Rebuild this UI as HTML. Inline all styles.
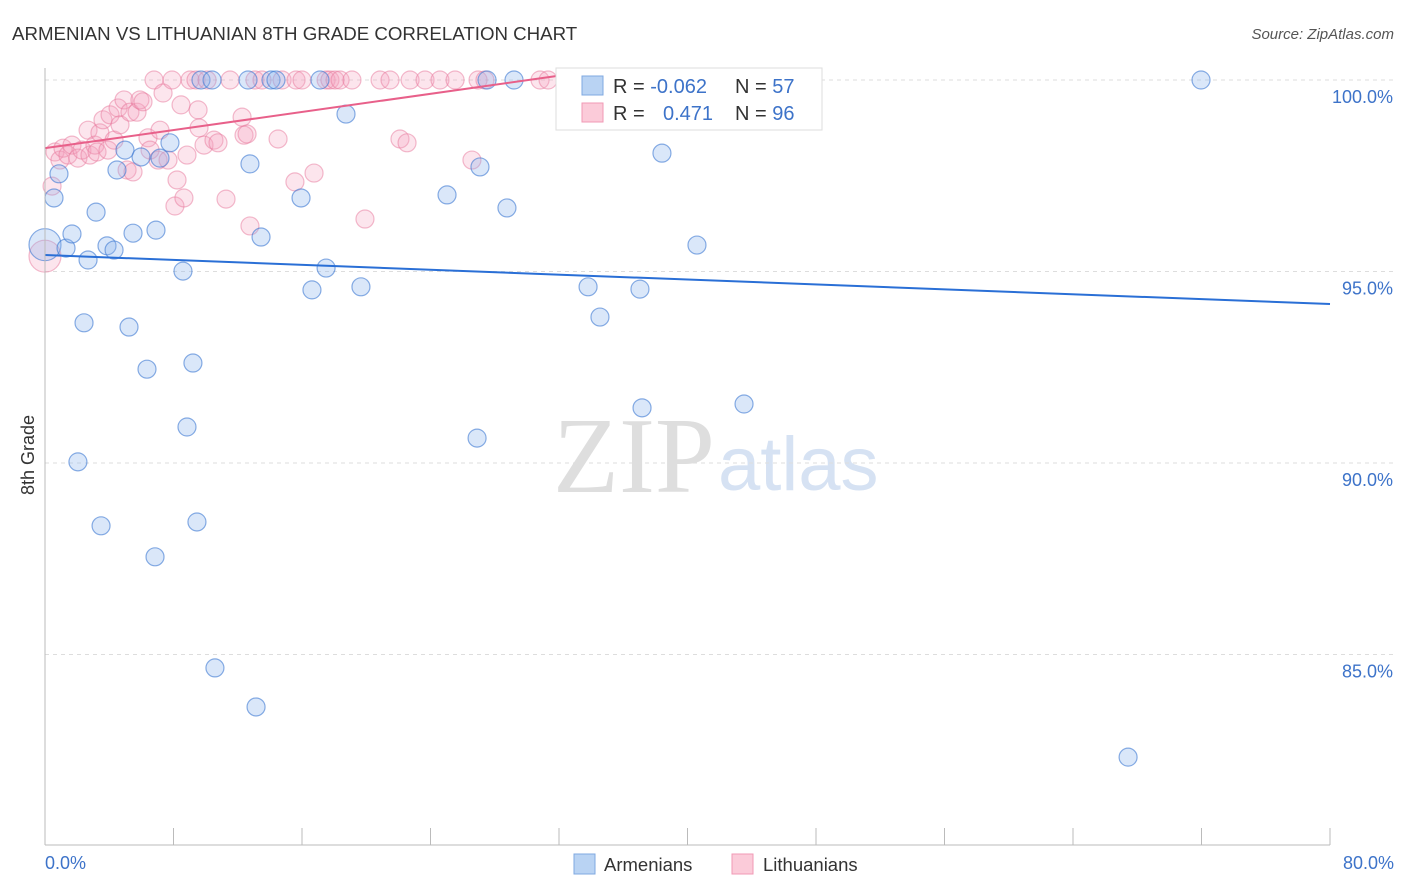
<!DOCTYPE html>
<html><head><meta charset="utf-8"><style>
body{margin:0;background:#fff;font-family:"Liberation Sans",sans-serif}
svg{display:block}
</style></head><body>
<svg id="chart" width="1406" height="892" font-family="Liberation Sans, sans-serif">
<text x="12" y="40" font-size="18.7" fill="#333">ARMENIAN VS LITHUANIAN 8TH GRADE CORRELATION CHART</text>
<text x="1394" y="39" font-size="15" fill="#555" font-style="italic" text-anchor="end">Source: ZipAtlas.com</text>
<text x="553" y="492" font-size="108" fill="#dedede" font-family="Liberation Serif, serif">ZIP</text>
<text x="718" y="490" font-size="76" fill="#d6e2f3">atlas</text>
<text transform="translate(34,455) rotate(-90)" font-size="18" fill="#333" text-anchor="middle">8th Grade</text>
<g id="grid"></g><g id="pts"></g><g id="lines"></g>
<line x1="45" y1="68" x2="45" y2="845" stroke="#bbb"/>
<line x1="45" y1="845" x2="1330" y2="845" stroke="#bbb"/>
<text x="45" y="869" font-size="18" fill="#3d73c9">0.0%</text>
<text x="1394" y="869" font-size="18" fill="#3d73c9" text-anchor="end">80.0%</text>
<g>
<rect x="556" y="68" width="266" height="62" fill="#fff" stroke="#ddd"/>
<rect x="582" y="76" width="21" height="19" fill="#b9d3f3" stroke="#7fa8e0"/>
<rect x="582" y="103" width="21" height="19" fill="#fbcbd9" stroke="#f09ab5"/>
<text x="613" y="93" font-size="20" fill="#333">R = <tspan fill="#3d73c9">-0.062</tspan></text>
<text x="735" y="93" font-size="20" fill="#333">N = <tspan fill="#3d73c9">57</tspan></text>
<text x="613" y="120" font-size="20" fill="#333">R =</text>
<text x="663" y="120" font-size="20" fill="#3d73c9">0.471</text>
<text x="735" y="120" font-size="20" fill="#333">N = <tspan fill="#3d73c9">96</tspan></text>
</g>
<g>
<rect x="574" y="854" width="21" height="20" fill="#b9d3f3" stroke="#7fa8e0"/>
<text x="604" y="871" font-size="18.5" fill="#333">Armenians</text>
<rect x="732" y="854" width="21" height="20" fill="#fbcbd9" stroke="#f09ab5"/>
<text x="763" y="871" font-size="18.5" fill="#333">Lithuanians</text>
</g>
</svg>
<script>
const yTicks=[100,95,90,85];
const yTickLabels=["100.0%","95.0%","90.0%","85.0%"];
const xTicks=[0,8,16,24,32,40,48,56,64,72,80];
const armX=[0,0.87,0.56,1.31,1.68,2.68,3.18,2.43,2.05,3.49,3.86,4.3,4.48,4.98,5.48,5.98,5.23,6.35,6.85,6.91,7.16,7.78,8.59,8.84,9.21,9.46,9.71,10.4,10.58,12.76,12.64,13.14,13.45,14.07,14.38,15.94,16.62,17.12,17.5,18.74,19.67,25.03,26.9,27.52,27.08,28.76,29.2,33.81,34.55,37.04,37.17,38.41,40.59,43.52,67.43,71.97];
const armY=[95.7,97.55,96.92,95.61,95.98,95.3,96.55,93.66,90.03,88.36,95.67,95.56,97.65,98.17,96.0,97.99,93.55,92.45,87.55,96.08,97.96,98.36,95.01,90.94,92.61,88.46,100,100,84.65,97.81,100,83.63,95.9,100,100,96.92,94.52,100,95.09,99.11,94.6,97.0,90.65,100,97.73,96.66,100,94.6,93.81,94.54,91.44,98.09,95.69,91.54,82.32,100];
const litX=[0,0.44,0.62,0.93,1.12,1.43,1.68,2.05,2.3,2.68,2.8,3.11,3.24,3.42,3.61,3.92,4.05,4.3,4.55,4.67,4.92,5.11,5.29,5.48,5.73,5.91,6.1,6.41,6.54,6.79,7.04,7.16,7.35,7.66,7.91,8.09,8.22,8.47,8.65,8.84,9.03,9.4,9.53,9.59,9.9,10.09,10.52,10.77,11.27,11.52,12.27,12.39,12.58,12.76,13.07,13.51,14.51,14.76,15.56,15.63,16.0,16.75,17.5,17.74,18.06,18.37,19.11,19.92,20.86,21.48,22.1,22.54,22.73,23.66,24.59,25.53,26.58,26.96,27.39,30.82,31.32,32.5,34.87,37.98];
const litY=[95.4,97.23,98.12,97.91,98.22,98.04,98.3,97.96,98.17,98.69,98.04,98.3,98.12,98.62,98.96,98.17,99.09,98.43,99.27,98.83,99.48,97.65,99.16,97.6,99.16,99.48,99.43,98.49,98.17,100,97.91,98.69,99.66,97.91,100,96.71,97.39,99.35,96.92,98.04,100,100,99.22,98.75,98.3,100,98.43,98.36,96.89,100,99.03,98.56,98.59,96.19,100,100,98.46,100,97.34,100,100,97.57,100,100,100,100,100,96.37,100,100,98.46,98.36,100,100,100,100,97.91,100,100,100,100,100,100,100];
const armTrend=[[0,95.43],[80,94.15]];
const litTrend=[[0,98.22],[31.8,100.1]];
const X=v=>45+v/80*1285, Y=v=>80+(100-v)*38.3;
const NS="http://www.w3.org/2000/svg";
function mk(t,a,p){const e=document.createElementNS(NS,t);for(const k in a)e.setAttribute(k,a[k]);p.appendChild(e);return e;}
const grid=document.getElementById('grid');
yTicks.forEach((t,i)=>{
 const l=mk('line',{x1:45,x2:1394,y1:Y(t),y2:Y(t),stroke:'#ddd','stroke-dasharray':'4,4'},grid);
 
 
 const tx=mk('text',{x:1393,y:Y(t)+23,'font-size':18,fill:'#3d73c9','text-anchor':'end'},grid);
 tx.textContent=yTickLabels[i];
 
 
});
xTicks.forEach(t=>{
 const l=mk('line',{x1:X(t),x2:X(t),y1:828,y2:845,stroke:'#bbb'},grid);
 
 
});
const pts=document.getElementById('pts');
litX.forEach((x,i)=>{
 const c=mk('circle',{cx:X(x),cy:Y(litY[i]),r:i==0?16:9,fill:'rgba(243,160,190,0.28)',stroke:'rgba(232,120,155,0.5)','stroke-width':1.2},pts);
 
 
});
armX.forEach((x,i)=>{
 const c=mk('circle',{cx:X(x),cy:Y(armY[i]),r:i==0?16:9,fill:'rgba(140,180,235,0.32)',stroke:'rgba(60,120,210,0.6)','stroke-width':1.2},pts);
 
 
});
const lines=document.getElementById('lines');
const a=mk('line',{x1:X(armTrend[0][0]),y1:Y(armTrend[0][1]),x2:X(armTrend[1][0]),y2:Y(armTrend[1][1]),stroke:'#2a6fd6','stroke-width':2},lines);


const b=mk('line',{x1:X(litTrend[0][0]),y1:Y(litTrend[0][1]),x2:X(litTrend[1][0]),y2:Y(litTrend[1][1]),stroke:'#e8608a','stroke-width':2},lines);


</script>
</body></html>
